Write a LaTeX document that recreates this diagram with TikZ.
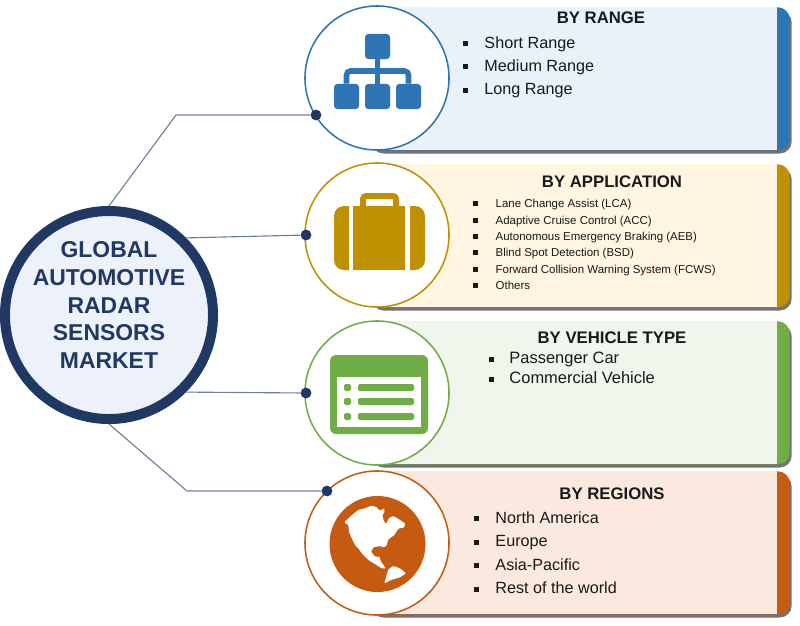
\documentclass[tikz,border=0pt]{standalone}
\usepackage{fontspec}
\setmainfont{Liberation Sans}
\usepackage{xcolor}
\usetikzlibrary{shapes.geometric,positioning,calc,shadows}
\definecolor{HubNavy}{HTML}{1F3864}
\definecolor{HubFill}{HTML}{EDF1F9}
\definecolor{RangeBlue}{HTML}{2E75B6}
\definecolor{RangeLight}{HTML}{E9F1F9}
\definecolor{AppGold}{HTML}{BF9000}
\definecolor{AppLight}{HTML}{FFF5E1}
\definecolor{VehGreen}{HTML}{70AD47}
\definecolor{VehLight}{HTML}{F0F6EB}
\definecolor{RegOrange}{HTML}{C55A11}
\definecolor{RegLight}{HTML}{FBE9E0}
\newcommand{\sqb}[1]{\rule[0.25ex]{0.125cm}{0.125cm}\hspace{#1}}

\begin{document}
\begin{tikzpicture}[
      x=0.025cm, y=-0.025cm,
      hub/.style={circle, draw=HubNavy, line width=0.25cm, fill=HubFill,
                  minimum size=5.2cm, inner sep=0pt},
      hubtxt/.style={align=center, text=HubNavy, inner sep=0pt,
                     font=\fontsize{16.3}{19.6}\selectfont\bfseries},
      strip/.style={rectangle, rounded corners=0.3cm, anchor=north east,
                    minimum width=10.5cm, minimum height=3.575cm,
                    inner sep=0pt,
                    drop shadow={shadow xshift=0.05cm, shadow yshift=-0.08cm,
                                 fill=black, opacity=0.55}},
      pbox/.style={rectangle, anchor=north east, minimum width=10.175cm,
                   minimum height=3.575cm, inner sep=0pt},
      ring/.style={circle, line width=1.1pt, fill=white, minimum size=3.6cm,
                   inner sep=0pt},
      dot/.style={circle, fill=HubNavy, minimum size=0.27cm, inner sep=0pt},
      conn/.style={draw=HubNavy!65, line width=0.8pt},
      ttl/.style={font=\fontsize{11.9}{13}\selectfont\bfseries,
                  text=black!90, inner sep=0pt},
      lbig/.style={anchor=north west, align=left, inner sep=0pt,
                   text=black!90, font=\fontsize{11.5}{16.7}\selectfont},
      lsmall/.style={anchor=north west, align=left, inner sep=0pt,
                     text=black!90, font=\fontsize{8.15}{11.7}\selectfont},
      lveh/.style={anchor=north west, align=left, inner sep=0pt,
                   text=black!90, font=\fontsize{11.7}{14.2}\selectfont},
      tree/.style={rectangle, fill=RangeBlue, rounded corners=0.08cm,
                   minimum size=0.625cm, inner sep=0pt},
      twire/.style={draw=RangeBlue, line width=0.14cm},
      row/.style={fill=VehGreen, rounded corners=0.04cm},
    ]
      \path[use as bounding box] (0,0) rectangle (800,625);

      \node[hub] (hub) at (109, 315) {};
      \node[hubtxt] (hubname) at (109, 305)
           {GLOBAL\\AUTOMOTIVE\\RADAR\\SENSORS\\MARKET};

      % panels
      \node[strip, fill=RangeBlue] (rstrip) at (790, 7) {};
      \node[pbox, fill=RangeLight] (rbox) at (777, 7) {};
      \node[strip, fill=AppGold] (astrip) at (790, 164) {};
      \node[pbox, fill=AppLight] (abox) at (777, 164) {};
      \node[strip, fill=VehGreen] (vstrip) at (790, 321) {};
      \node[pbox, fill=VehLight] (vbox) at (777, 321) {};
      \node[strip, fill=RegOrange] (gstrip) at (790, 471) {};
      \node[pbox, fill=RegLight] (gbox) at (777, 471) {};

      \node[ring, draw=RangeBlue] (rring) at (377, 78) {};
      \node[ring, draw=AppGold] (aring) at (377, 235) {};
      \node[ring, draw=VehGreen] (vring) at (377, 393) {};
      \node[ring, draw=RegOrange] (gring) at (377, 543) {};

      \node[dot] (rdot) at (316, 115) {};
      \node[dot] (adot) at (306, 235) {};
      \node[dot] (vdot) at (306, 393) {};
      \node[dot] (gdot) at (327, 491) {};

      \coordinate (rbend) at (176, 115);
      \coordinate (gbend) at (187, 491);
      \draw[conn] (hub.90) -- (rbend) -- (rdot);
      \draw[conn] (hub.45) -- (adot);
      \draw[conn] (hub.-45) -- (vdot);
      \draw[conn] (hub.-90) -- (gbend) -- (gdot);

      % titles and lists
      \node[ttl] (rttl) at (601, 18) {BY RANGE};
      \node[lbig] (rlist) at (463, 36) {\sqb{0.405cm}Short Range\\
                                        \sqb{0.405cm}Medium Range\\
                                        \sqb{0.405cm}Long Range};
      \node[ttl] (attl) at (612, 182) {BY APPLICATION};
      \node[lsmall] (alist) at (473, 199) {\sqb{0.435cm}Lane Change Assist (LCA)\\
        \sqb{0.435cm}Adaptive Cruise Control (ACC)\\
        \sqb{0.435cm}Autonomous Emergency Braking (AEB)\\
        \sqb{0.435cm}Blind Spot Detection (BSD)\\
        \sqb{0.435cm}Forward Collision Warning System (FCWS)\\
        \sqb{0.435cm}Others};
      \node[ttl] (vttl) at (612, 338) {BY VEHICLE TYPE};
      \node[lveh] (vlist) at (489, 352) {\sqb{0.38cm}Passenger Car\\
                                         \sqb{0.38cm}Commercial Vehicle};
      \node[ttl] (gttl) at (612, 494) {BY REGIONS};
      \node[lbig] (glist) at (474, 511.5) {\sqb{0.405cm}North America\\
                                           \sqb{0.405cm}Europe\\
                                           \sqb{0.405cm}Asia-Pacific\\
                                           \sqb{0.405cm}Rest of the world};

      % range icon
      \node[tree] (rtop) at (377.5, 46.5) {};
      \node[tree] (rleft) at (346.5, 96.5) {};
      \node[tree] (rmid) at (377.5, 96.5) {};
      \node[tree] (rright) at (408.5, 96.5) {};
      \draw[twire] (rtop) -- (rmid);
      \draw[twire, rounded corners=0.1cm] (rleft) |- (377.5, 71) -| (rright);

      % application icon
      \fill[AppGold] (349, 206) {[rounded corners=0.25cm] -- (334, 206)
                     -- (334, 270)} -- (349, 270) -- cycle;
      \fill[AppGold] (353, 206) rectangle (405, 270);
      \fill[AppGold] (410, 206) {[rounded corners=0.25cm] -- (425, 206)
                     -- (425, 270)} -- (410, 270) -- cycle;
      \draw[AppGold, line width=0.15cm, rounded corners=0.08cm]
           (363, 206) -- (363, 196) -- (396, 196) -- (396, 206);

      % vehicle icon
      \fill[VehGreen, rounded corners=0.15cm] (330, 355) rectangle (428, 434);
      \fill[white] (337, 377) rectangle (421, 427);
      \fill[row] (344, 384) rectangle (351, 391);
      \fill[row] (344, 398) rectangle (351, 405);
      \fill[row] (344, 413) rectangle (351, 420);
      \fill[row] (358, 384) rectangle (414, 391);
      \fill[row] (358, 398) rectangle (414, 405);
      \fill[row] (358, 413) rectangle (414, 420);

      % regions icon
      \node[circle, fill=RegOrange, minimum size=2.4cm, inner sep=0pt]
           (globe) at (377.5, 544) {};
      \begin{scope}[shift={(325, 490)}, x=0.00833cm, y=-0.00833cm]
        \fill[white, rounded corners=0.5pt]
          (58,97) -- (75,80) -- (100,60) -- (120,55) -- (140,47) -- (152,50)
          -- (165,62) -- (178,55) -- (178,68) -- (172,75) -- (176,92)
          -- (183,102) -- (192,84) -- (205,78) -- (222,88) -- (240,100)
          -- (238,112) -- (220,116) -- (208,135) -- (190,148) -- (184,168)
          -- (175,172) -- (165,168) -- (145,172) -- (138,185) -- (150,200)
          -- (163,200) -- (168,215) -- (182,235) -- (170,235) -- (150,222)
          -- (130,210) -- (112,192) -- (100,175) -- (90,165) -- (78,140)
          -- (72,125) -- (70,105) -- cycle;
        \fill[white, rounded corners=0.5pt]
          (205,228) -- (225,235) -- (243,250) -- (225,262) -- (198,270)
          -- (178,280) -- (185,255) -- (190,238) -- cycle;
      \end{scope}
    \end{tikzpicture}
\end{document}
